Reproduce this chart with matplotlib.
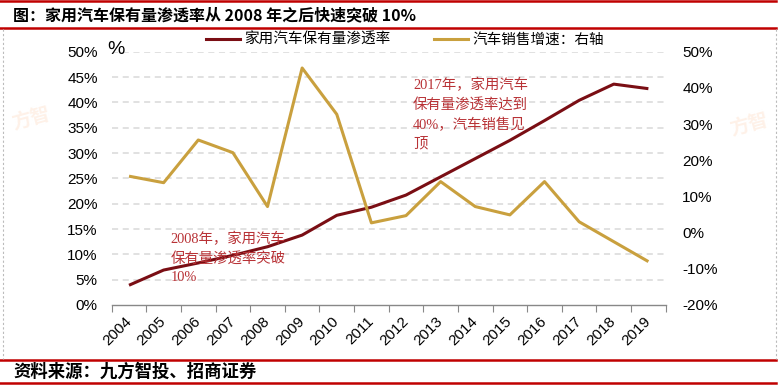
import matplotlib.pyplot as plt
from matplotlib.lines import Line2D
import numpy as np

# colours
maroon = '#7A0E14'
gold = '#C9A03E'
red_rule = '#C00000'
note_red = '#B83236'
grid_gray = '#D9D9D9'

years = ['2004', '2005', '2006', '2007', '2008', '2009', '2010', '2011',
         '2012', '2013', '2014', '2015', '2016', '2017', '2018', '2019']
penetration = [3.9, 6.9, 8.3, 9.8, 11.5, 13.8, 17.7, 19.3,
               21.7, 25.3, 28.9, 32.5, 36.4, 40.4, 43.6, 42.7]  # %, left axis
sales_growth = [15.6, 13.8, 25.6, 22.1, 7.2, 45.5, 32.7, 2.7,
                4.7, 14.1, 7.2, 4.9, 14.1, 3.0, -2.5, -8.0]   # %, right axis

left_ticks = list(range(0, 55, 5))
right_ticks = list(range(-20, 60, 10))

cjk = ['Noto Sans CJK SC', 'DejaVu Sans']
serif_cjk = ['Liberation Serif', 'Noto Sans CJK SC']
num_font = 'Liberation Sans'

W, H = 780, 388
fig = plt.figure(figsize=(W / 100, H / 100), dpi=100)

x = np.arange(len(years))
ax = fig.add_axes([111.7 / W, 1 - 305 / H, 554 / W, 253.3 / H])
ax2 = ax.twinx()

ax.set_xlim(-0.5, len(years) - 0.5)
ax.set_ylim(0, 50)
ax2.set_ylim(-20, 50)

for yv in left_ticks[1:]:
    ax.axhline(yv, color=grid_gray, linewidth=1.1, linestyle=(0, (4, 3)), zorder=0)

ax.plot(x, penetration, color=maroon, linewidth=2.2, zorder=3, solid_capstyle='butt')
ax2.plot(x, sales_growth, color=gold, linewidth=2.2, zorder=3, solid_capstyle='butt')

for a in (ax, ax2):
    for s in ('top', 'left', 'right'):
        a.spines[s].set_visible(False)
ax2.spines['bottom'].set_visible(False)
ax.spines['bottom'].set_color('#888888')
ax.spines['bottom'].set_linewidth(1)

ax.set_yticks(left_ticks)
ax.set_yticklabels([f'{v}%' for v in left_ticks], fontfamily=num_font, fontsize=11)
ax.tick_params(axis='y', length=0, pad=10)
ax2.set_yticks(right_ticks)
ax2.set_yticklabels([f'{v}%' for v in right_ticks], fontfamily=num_font, fontsize=11)
ax2.tick_params(axis='y', length=0, pad=12)

ax.set_xticks(np.arange(-0.5, len(years), 1))
ax.set_xticklabels([])
ax.tick_params(axis='x', which='major', length=5, color='#888888', direction='out')
ax.set_xticks(x, minor=True)
ax.set_xticklabels(years, minor=True, rotation=45, ha='right', va='center',
                   rotation_mode='anchor', fontfamily=num_font, fontsize=11)
ax.tick_params(axis='x', which='minor', length=0, pad=10)

# unit label next to top tick
fig.text(107 / W, 1 - 49 / H, '%', fontfamily=num_font, fontsize=14,
         ha='left', va='center')

# legend
handles = [Line2D([], [], color=maroon, linewidth=2.2),
           Line2D([], [], color=gold, linewidth=2.2)]
fig.legend(handles, ['家用汽车保有量渗透率', '汽车销售增速：右轴'],
           loc='center', bbox_to_anchor=(405 / W, 1 - 40 / H), ncol=2,
           frameon=False, handlelength=2.3, handletextpad=0.3, columnspacing=3.0,
           prop={'family': cjk, 'size': 10.5})

# annotations
ax.text(1.2, 14.4, '2008年，家用汽车\n保有量渗透率突破\n10%', color=note_red,
        fontsize=10.4, family=serif_cjk, ha='left', va='top', linespacing=1.5, zorder=5)
ax.text(8.2, 44.8, '2017年，家用汽车\n保有量渗透率达到\n40%，汽车销售见\n顶', color=note_red,
        fontsize=10.4, family=serif_cjk, ha='left', va='top', linespacing=1.5, zorder=5)

# title and source
fig.text(13 / W, 1 - 15 / H, '图：家用汽车保有量渗透率从 2008 年之后快速突破 10%',
         family=cjk, fontsize=11.5, fontweight='bold', ha='left', va='center')
fig.text(13 / W, 1 - 371.5 / H, '资料来源：九方智投、招商证券',
         family=cjk, fontsize=12.5, fontweight='bold', ha='left', va='center')

# red rules
for yy in (1.2, 28, 360, 382.5):
    fig.add_artist(Line2D([0, 776 / W], [1 - yy / H, 1 - yy / H], color=red_rule,
                          linewidth=1.8, transform=fig.transFigure))
# dashed side borders
for xx in (3.5, 776):
    fig.add_artist(Line2D([xx / W, xx / W], [1 - 29 / H, 1 - 359 / H], color='#BBBBBB',
                          linewidth=0.8, linestyle=(0, (2, 2)), transform=fig.transFigure))

# faint watermarks
fig.text(10 / W, 1 - 118 / H, '方智', color='#FEF1E8', fontsize=14, family=cjk,
         fontweight='bold', rotation=15, ha='left', va='center', zorder=0)
fig.text(728 / W, 1 - 124 / H, '方智', color='#FEF1E8', fontsize=14, family=cjk,
         fontweight='bold', rotation=15, ha='left', va='center', zorder=0)

plt.savefig('out.png', dpi=100)
plt.close()
